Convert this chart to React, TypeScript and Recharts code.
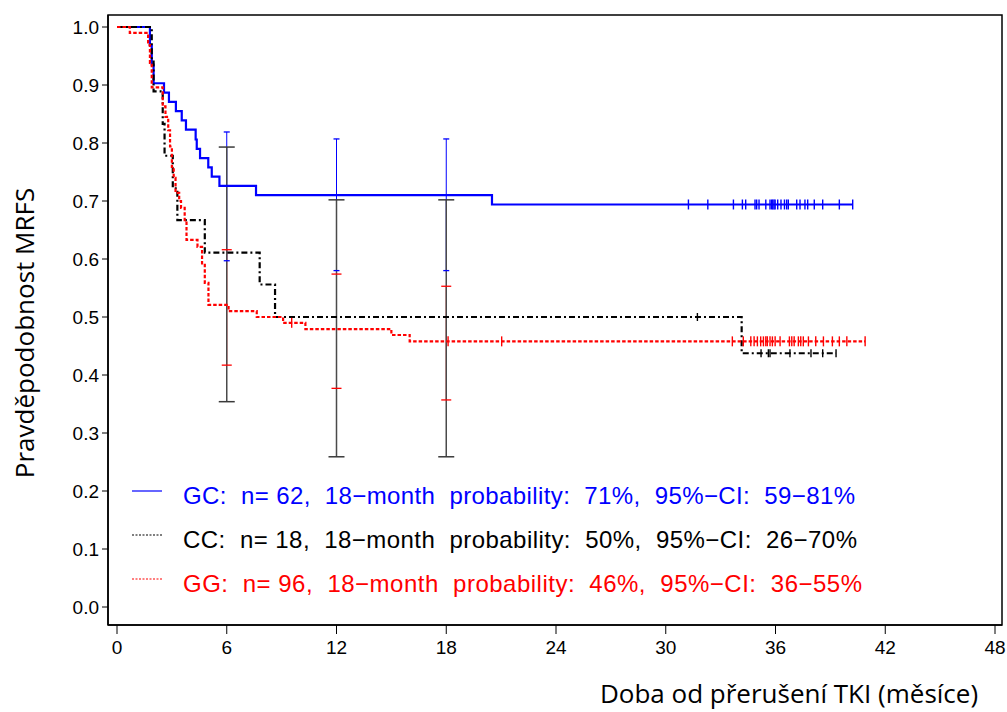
import { ComposedChart, Line, XAxis, YAxis } from "recharts";

const W = 1007;
const H = 712;

// GC, n = 62 (Kaplan-Meier steps)
const gcTimes = [0, 1.8, 1.9, 2.0, 2.57, 2.84, 3.22, 3.54, 3.77, 4.3, 4.36, 4.54, 4.99, 5.18, 5.6, 7.6, 20.5, 40.22];
const gcSurv = [1.0, 0.968, 0.935, 0.903, 0.887, 0.871, 0.855, 0.839, 0.823, 0.806, 0.79, 0.774, 0.758, 0.742, 0.726, 0.71, 0.694, 0.694];
const gcCensored = [31.24, 32.3, 33.7, 34.19, 34.37, 34.88, 34.97, 35.1, 35.47, 35.7, 35.79, 35.85, 35.92, 35.98, 36.12, 36.3, 36.49, 36.61, 36.7, 37.16, 37.34, 37.61, 37.76, 38.12, 38.58, 39.49, 40.22];

// CC, n = 18
const ccTimes = [0, 1.9, 2.0, 2.5, 2.6, 3.05, 3.3, 4.8, 7.8, 8.64, 34.15, 39.31];
const ccSurv = [1.0, 0.944, 0.889, 0.833, 0.778, 0.722, 0.667, 0.611, 0.556, 0.5, 0.4375, 0.4375];
const ccCensored = [31.73, 35.21, 35.61, 35.7, 36.79, 37.94, 38.58, 39.31];

// GG, n = 96
const ggTimes = [0, 0.7, 1.7, 1.8, 1.9, 2.5, 2.65, 2.8, 2.9, 3.0, 3.1, 3.2, 3.4, 3.5, 3.7, 3.8, 4.4, 4.65, 4.8, 5.0, 6.1, 7.64, 9.08, 10.3, 15.0, 16.0, 40.9];
const ggSurv = [1.0, 0.99, 0.969, 0.938, 0.896, 0.863, 0.845, 0.822, 0.794, 0.759, 0.74, 0.714, 0.7, 0.688, 0.667, 0.633, 0.621, 0.59, 0.559, 0.521, 0.51, 0.5, 0.49, 0.479, 0.469, 0.458, 0.458];
const ggCensored = [9.55, 18.1, 21.03, 33.64, 34.24, 34.65, 34.83, 35.01, 35.19, 35.34, 35.47, 35.55, 35.7, 35.83, 35.98, 36.25, 36.76, 36.89, 37.02, 37.25, 37.38, 37.52, 37.8, 38.2, 38.62, 39.11, 39.49, 39.9, 40.9];

// 95% CI at 6, 12 and 18 months
const ciTimes = [6, 12, 18];
const gcLower = [0.597, 0.58, 0.58];
const gcUpper = [0.819, 0.807, 0.807];
const ccLower = [0.354, 0.259, 0.259];
const ccUpper = [0.793, 0.702, 0.702];
const ggLower = [0.417, 0.377, 0.357];
const ggUpper = [0.616, 0.574, 0.553];

const xTicks = [0, 6, 12, 18, 24, 30, 36, 42, 48];
const xMinorTicks = Array.from({ length: 49 }, (_, i) => i);
const yTicks = [0, 0.1, 0.2, 0.3, 0.4, 0.5, 0.6, 0.7, 0.8, 0.9, 1.0];
const yMinorTicks = Array.from({ length: 51 }, (_, i) => Math.round(i * 2) / 100);

const legendRows = [
  { text: "GC:  n= 62,  18\u2212month  probability:  71%,  95%\u2212CI:  59\u221281%", color: "#0000ff", dash: undefined, len: 672 },
  { text: "CC:  n= 18,  18\u2212month  probability:  50%,  95%\u2212CI:  26\u221270%", color: "#000000", dash: "2 1.5", len: 674 },
  { text: "GG:  n= 96,  18\u2212month  probability:  46%,  95%\u2212CI:  36\u221255%", color: "#ff0000", dash: "2 1.5", len: 679 },
];

const steps = (times: number[], surv: number[]) => times.map((t, i) => ({ t, s: surv[i] }));

function survAt(times: number[], surv: number[], t: number) {
  let v = surv[0];
  for (let i = 0; i < times.length; i++) if (times[i] <= t) v = surv[i];
  return v;
}

const censorPoints = (c: number[], times: number[], surv: number[]) =>
  c.map((t) => ({ t, s: survAt(times, surv, t) }));

function ciData(lo: number[], hi: number[]) {
  const out: { t: number; v: number | null }[] = [];
  ciTimes.forEach((t, i) => {
    if (i > 0) out.push({ t: t - 3, v: null });
    out.push({ t, v: lo[i] }, { t, v: hi[i] });
  });
  return out;
}

const tickMark = (half: number, color: string) => (p: any) => {
  if (p.cx == null || p.cy == null) return <g key={`m-${p.index}`} />;
  return (
    <line key={`m-${p.index}`} x1={p.cx} x2={p.cx} y1={p.cy - half} y2={p.cy + half} stroke={color} strokeWidth={1.4} />
  );
};

const capMark = (half: number, color: string, w: number) => (p: any) => {
  if (p.cx == null || p.cy == null || p.value == null) return <g key={`c-${p.index}`} />;
  return (
    <line key={`c-${p.index}`} x1={p.cx - half} x2={p.cx + half} y1={p.cy} y2={p.cy} stroke={color} strokeWidth={w} />
  );
};

const noTick = () => <g />;

export default function App() {
  const tickFont = { fontSize: 19, fill: "#000", fontFamily: "Liberation Sans, Arial, sans-serif" };
  return (
    <div style={{ position: "absolute", left: 0, top: 0, width: W, height: H, background: "#fff" }}>
      <ComposedChart width={W} height={H} margin={{ top: 15, right: 5, bottom: 0, left: 0 }}>
        <XAxis
          xAxisId="minor"
          type="number"
          dataKey="t"
          domain={[0, 48]}
          padding={{ left: 9, right: 7 }}
          ticks={xMinorTicks}
          interval={0}
          tick={noTick}
          tickSize={5}
          tickLine={{ stroke: "#000" }}
          axisLine={false}
          height={0}
        />
        <XAxis
          xAxisId="main"
          type="number"
          dataKey="t"
          domain={[0, 48]}
          padding={{ left: 9, right: 7 }}
          ticks={xTicks}
          interval={0}
          tick={tickFont}
          tickSize={9}
          tickMargin={7}
          tickLine={{ stroke: "#000" }}
          axisLine={{ stroke: "#000", strokeWidth: 1.5 }}
          height={87}
        />
        <YAxis
          yAxisId="minor"
          type="number"
          domain={[0, 1]}
          padding={{ top: 12, bottom: 18 }}
          ticks={yMinorTicks}
          interval={0}
          tick={noTick}
          tickSize={4}
          tickLine={{ stroke: "#000" }}
          axisLine={false}
          width={0}
        />
        <YAxis
          yAxisId="main"
          type="number"
          domain={[0, 1]}
          padding={{ top: 12, bottom: 18 }}
          ticks={yTicks}
          interval={0}
          tickFormatter={(v: number) => v.toFixed(1)}
          tick={tickFont}
          tickSize={6}
          tickMargin={3}
          tickLine={{ stroke: "#000" }}
          axisLine={{ stroke: "#000", strokeWidth: 1.5 }}
          width={108}
        />

        {/* confidence intervals */}
        <Line xAxisId="main" yAxisId="main" data={ciData(gcLower, gcUpper)} dataKey="v" type="linear" stroke="#0000ff" strokeWidth={1} connectNulls={false} dot={capMark(3, "#0000ff", 1.3)} activeDot={false} isAnimationActive={false} />
        <Line xAxisId="main" yAxisId="main" data={ciData(ggLower, ggUpper)} dataKey="v" type="linear" stroke="#ff0000" strokeWidth={1} connectNulls={false} dot={capMark(5, "#ff0000", 1.3)} activeDot={false} isAnimationActive={false} />
        <Line xAxisId="main" yAxisId="main" data={ciData(ccLower, ccUpper)} dataKey="v" type="linear" stroke="#4a4a4a" strokeWidth={1.5} connectNulls={false} dot={capMark(8, "#3a3a3a", 1.5)} activeDot={false} isAnimationActive={false} />

        {/* survival curves */}
        <Line xAxisId="main" yAxisId="main" data={steps(gcTimes, gcSurv)} dataKey="s" type="stepAfter" stroke="#0000ff" strokeWidth={2.2} dot={false} activeDot={false} isAnimationActive={false} />
        <Line xAxisId="main" yAxisId="main" data={steps(ccTimes, ccSurv)} dataKey="s" type="stepAfter" stroke="#000000" strokeWidth={2.2} strokeDasharray="6 3 2 3" dot={false} activeDot={false} isAnimationActive={false} />
        <Line xAxisId="main" yAxisId="main" data={steps(ggTimes, ggSurv)} dataKey="s" type="stepAfter" stroke="#ff0000" strokeWidth={2.2} strokeDasharray="3.5 2" dot={false} activeDot={false} isAnimationActive={false} />

        {/* censoring marks */}
        <Line xAxisId="main" yAxisId="main" data={censorPoints(gcCensored, gcTimes, gcSurv)} dataKey="s" stroke="none" dot={tickMark(5, "#0000ff")} activeDot={false} isAnimationActive={false} />
        <Line xAxisId="main" yAxisId="main" data={censorPoints(ccCensored, ccTimes, ccSurv)} dataKey="s" stroke="none" dot={tickMark(4, "#000000")} activeDot={false} isAnimationActive={false} />
        <Line xAxisId="main" yAxisId="main" data={censorPoints(ggCensored, ggTimes, ggSurv)} dataKey="s" stroke="none" dot={tickMark(5, "#ff0000")} activeDot={false} isAnimationActive={false} />
      </ComposedChart>

      {/* plot frame, legend and axis titles */}
      <svg width={W} height={H} style={{ position: "absolute", left: 0, top: 0, pointerEvents: "none" }}>
        <rect x={108} y={15} width={894} height={610} fill="none" stroke="#000" strokeWidth={1.5} />
        {legendRows.map((r, i) => (
          <g key={r.text}>
            <line x1={132} x2={162} y1={491 + i * 44} y2={491 + i * 44} stroke={r.color} strokeWidth={1.2} strokeDasharray={r.dash} />
            <text
              x={183}
              y={504 + i * 44}
              fill={r.color}
              fontSize={24}
              fontFamily="Liberation Sans, Arial, sans-serif"
              textLength={r.len}
              lengthAdjust="spacing"
              style={{ whiteSpace: "pre" }}
            >
              {r.text}
            </text>
          </g>
        ))}
        <text
          x={0}
          y={0}
          transform="translate(34 333) rotate(-90)"
          textAnchor="middle"
          fontSize={26}
          fontFamily="Open Sans, sans-serif"
          fill="#000"
        >
          Pravděpodobnost MRFS
        </text>
        <text x={789} y={703} textAnchor="middle" fontSize={26} fontFamily="Open Sans, sans-serif" fill="#000">
          Doba od přerušení TKI (měsíce)
        </text>
      </svg>
    </div>
  );
}
